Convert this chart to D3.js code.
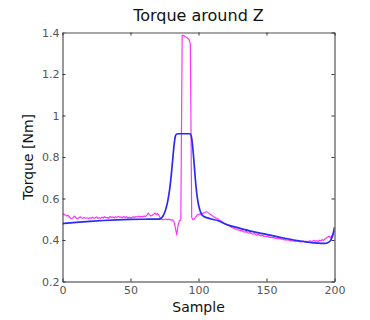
<!DOCTYPE html>
<html><head><meta charset="utf-8">
<script src="https://cdn.jsdelivr.net/npm/d3@7"></script>
<style>body{margin:0;background:#fff}svg{display:block;font-family:"DejaVu Sans",Verdana,sans-serif}</style>
</head><body>
<script>
const title = "Torque around Z";
const xLabel = "Sample";
const yLabel = "Torque [Nm]";
const xTicks = [0, 50, 100, 150, 200];
const yTicks = [0.2, 0.4, 0.6, 0.8, 1.0, 1.2, 1.4];
const yTickLabels = ["0.2", "0.4", "0.6", "0.8", "1", "1.2", "1.4"];

// blue series (smooth), sample index / value
const blueSamples = [0,10,20,30,40,50,60,70,72,73,74,75,76,77,78,79,80,81,82,83,84,86,90,93,94,95,96,97,98,99,100,101,102,103,104,106,110,114,120,130,140,150,160,170,180,185,190,193,195,197,198,199,200];
const blueValues  = [0.479,0.485,0.490,0.494,0.497,0.499,0.500,0.501,0.502,0.508,0.517,0.530,0.550,0.575,0.610,0.655,0.715,0.785,0.855,0.900,0.911,0.912,0.912,0.912,0.911,0.890,0.830,0.750,0.670,0.610,0.570,0.545,0.528,0.518,0.513,0.508,0.500,0.494,0.476,0.457,0.440,0.427,0.413,0.400,0.390,0.386,0.384,0.384,0.387,0.397,0.410,0.430,0.462];

// magenta series, one value per sample 0..200
const pinkValues = [
0.522,0.525,0.521,0.516,0.519,0.512,0.505,0.503,0.510,0.515,0.506,
0.502,0.507,0.512,0.506,0.504,0.509,0.505,0.507,0.503,0.508,
0.505,0.510,0.504,0.507,0.511,0.505,0.508,0.504,0.510,0.506,
0.512,0.507,0.509,0.505,0.513,0.508,0.511,0.506,0.512,0.508,
0.514,0.509,0.511,0.507,0.513,0.508,0.512,0.506,0.510,0.507,
0.509,0.512,0.508,0.513,0.510,0.515,0.511,0.514,0.512,0.516,
0.513,0.520,0.529,0.522,0.516,0.519,0.524,0.530,0.522,0.528,
0.518,0.505,0.500,0.497,0.499,0.502,0.497,0.500,0.498,0.496,
0.497,0.488,0.458,0.424,0.472,0.493,0.497,1.385,1.386,1.381,
1.377,1.373,1.366,1.345,0.508,0.498,0.502,0.512,0.520,0.523,
0.526,0.522,0.528,0.531,0.534,0.537,0.532,0.526,0.522,0.518,
0.512,0.509,0.505,0.503,0.498,0.494,0.489,0.484,0.480,0.478,
0.474,0.471,0.468,0.462,0.459,0.457,0.452,0.453,0.449,0.447,
0.444,0.446,0.440,0.438,0.441,0.435,0.433,0.436,0.430,0.428,
0.431,0.426,0.424,0.427,0.422,0.420,0.423,0.418,0.419,0.416,
0.418,0.413,0.414,0.411,0.413,0.409,0.408,0.410,0.405,0.407,
0.403,0.405,0.401,0.402,0.399,0.401,0.397,0.398,0.395,0.397,
0.393,0.396,0.392,0.394,0.390,0.393,0.395,0.391,0.394,0.390,
0.393,0.397,0.392,0.395,0.398,0.394,0.397,0.393,0.399,0.396,
0.401,0.398,0.405,0.410,0.414,0.418,0.412,0.420,0.428,0.442];

const W = 370, H = 320;
const L = 62.5, R = 334.5, T = 32.5, B = 281.5;
const svg = d3.select("body").append("svg").attr("width", W).attr("height", H);
svg.append("rect").attr("width", W).attr("height", H).attr("fill", "#fff");

const x = d3.scaleLinear().domain([0, 200]).range([L, R]);
const y = d3.scaleLinear().domain([0.2, 1.4]).range([B, T]);

svg.append("clipPath").attr("id", "clip").append("rect")
  .attr("x", L).attr("y", T - 2).attr("width", R - L).attr("height", B - T + 2);

const g = svg.append("g").attr("clip-path", "url(#clip)");
const line = d3.line().x(d => x(d[0])).y(d => y(d[1]));

g.append("path")
  .datum(pinkValues.map((v, i) => [i, v]))
  .attr("d", line).attr("fill", "none")
  .attr("stroke", "#ff33ff").attr("stroke-width", 1.2);

g.append("path")
  .datum(blueSamples.map((s, i) => [s, blueValues[i]]))
  .attr("d", line.curve(d3.curveMonotoneX)).attr("fill", "none")
  .attr("stroke", "#2a2af2").attr("stroke-width", 1.7);

// axes
const axColor = "#333";
const xb = svg.append("g").attr("transform", `translate(0,${B})`)
  .call(d3.axisBottom(x).tickValues(xTicks).tickSizeInner(-3).tickSizeOuter(0).tickPadding(5).tickFormat(d3.format("d")));
const yl = svg.append("g").attr("transform", `translate(${L},0)`)
  .call(d3.axisLeft(y).tickValues(yTicks).tickSizeInner(-3).tickSizeOuter(0).tickPadding(3).tickFormat((d, i) => yTickLabels[i]));
const xt = svg.append("g").attr("transform", `translate(0,${T})`)
  .call(d3.axisTop(x).tickValues(xTicks).tickSizeInner(-3).tickSizeOuter(0).tickFormat(""));
const yr = svg.append("g").attr("transform", `translate(${R},0)`)
  .call(d3.axisRight(y).tickValues(yTicks).tickSizeInner(-3).tickSizeOuter(0).tickFormat(""));

[xb, yl, yr].forEach(a => { a.select(".domain").attr("stroke", axColor); a.selectAll(".tick line").attr("stroke", axColor); });
xt.select(".domain").attr("stroke", "#888").attr("stroke-width", 1.5);
xt.selectAll(".tick line").attr("stroke", axColor);
[xb, yl].forEach(a => a.selectAll(".tick text")
  .attr("font-family", '"DejaVu Sans",Verdana,sans-serif').attr("font-size", 11).attr("fill", "#555"));

svg.append("text").attr("x", (L + R) / 2).attr("y", 20.5).attr("text-anchor", "middle")
  .attr("font-size", 16).attr("fill", "#111").text(title);
svg.append("text").attr("x", (L + R) / 2).attr("y", 312).attr("text-anchor", "middle")
  .attr("font-size", 14).attr("fill", "#111").text(xLabel);
svg.append("text").attr("transform", `translate(33,${(T + B) / 2}) rotate(-90)`).attr("text-anchor", "middle")
  .attr("font-size", 14).attr("fill", "#111").text(yLabel);
</script>
</body></html>
